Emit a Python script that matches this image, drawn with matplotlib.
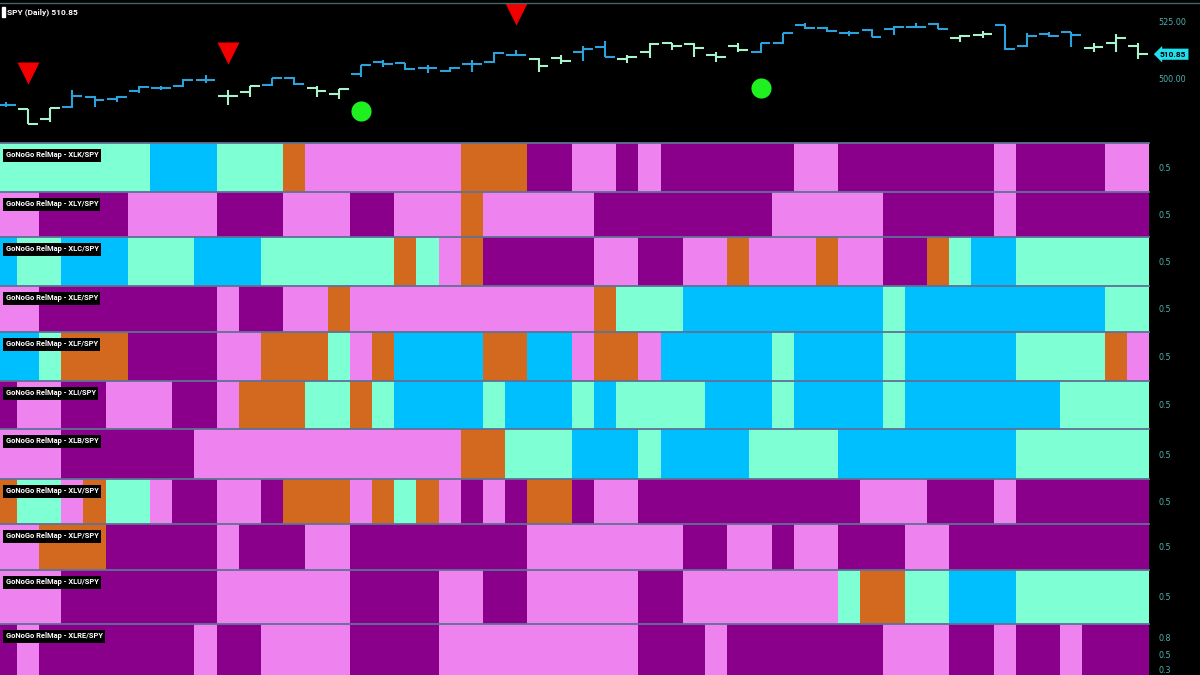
import numpy as np
import matplotlib.pyplot as plt
from matplotlib.lines import Line2D
from matplotlib.patches import Rectangle
import matplotlib.transforms as mtransforms

# SPY daily OHLC (52 sessions)
opens = [488.5, 486.8, 482.5, 487.7, 492.1, 491.2, 494.7, 496.0, 496.9, 499.6,
         492.5, 494.3, 497.4, 500.4, 496.0, 493.4, 502.2, 507.5, 507.0, 504.8,
         503.5, 506.6, 507.5, 510.5, 508.8, 509.2, 511.8, 514.0, 508.8, 511.8,
         515.8, 515.4, 510.5, 514.5, 511.8, 515.8, 523.7, 522.4, 520.2, 521.5,
         521.9, 522.8, 524.1, 518.0, 519.3, 523.7, 514.5, 519.7, 520.6, 513.6,
         515.8, 514.5]
highs = [489.9, 487.0, 487.3, 495.2, 492.5, 492.5, 496.9, 496.9, 500.0, 501.8,
         495.2, 496.9, 500.4, 500.9, 496.9, 495.6, 506.1, 508.3, 507.1, 506.1,
         505.3, 508.3, 511.8, 512.7, 509.2, 510.5, 514.5, 516.7, 510.5, 515.8,
         515.9, 515.8, 511.8, 515.8, 515.9, 520.2, 524.6, 522.8, 521.1, 521.9,
         523.2, 524.6, 524.6, 519.3, 521.1, 523.8, 520.2, 520.6, 520.7, 515.8,
         519.7, 515.8]
lows = [487.9, 480.3, 481.1, 487.3, 487.7, 489.9, 493.9, 495.2, 496.5, 498.2,
        488.6, 492.1, 496.9, 497.4, 492.1, 491.2, 500.9, 505.3, 503.9, 502.6,
        503.1, 503.1, 507.0, 510.1, 503.1, 506.6, 507.9, 509.6, 507.0, 509.2,
        512.7, 509.6, 507.5, 511.8, 511.4, 515.4, 521.9, 520.6, 518.9, 518.4,
        519.3, 522.4, 521.9, 516.2, 518.0, 512.7, 514.0, 518.4, 514.0, 511.8,
        511.8, 508.8]
closes = [488.7, 480.3, 487.3, 492.5, 490.8, 492.1, 496.5, 496.0, 499.6, 499.6,
          492.5, 496.9, 500.4, 497.8, 494.7, 495.6, 506.1, 506.6, 504.4, 504.8,
          504.8, 506.6, 511.4, 510.5, 505.7, 507.9, 513.2, 509.6, 509.6, 515.4,
          514.5, 513.6, 509.6, 512.7, 515.8, 520.2, 522.4, 521.1, 520.2, 518.4,
          522.8, 522.8, 521.9, 518.9, 519.7, 513.2, 518.9, 518.9, 519.3, 514.0,
          518.0, 510.85]
# B = strong go (blue), G = weak go (light green)
price_trend = "B GG BBBBBBB GG BB GG BBBBBBBB GG BB GGGGGG BBBBBBBBB GG BBBB GGG"

nogo_idx = [1, 10, 23]
nogo_y = [502.6, 511.2, 528.5]
go_idx = [16, 34]
go_y = [486.1, 495.9]

# RelMap rows: A=aquamarine, B=blue, O=amber, P=pink, M=purple
sectors = ["XLK", "XLY", "XLC", "XLE", "XLF", "XLI", "XLB", "XLV", "XLP", "XLU", "XLRE"]
xlk = "AAAAAAA BBB AAA O PPPPPPP OOO MM PP M P MMMMMM PP MMMMMMM P MMMM PP"
xly = "PP MMMM PPPP MMM PPP MM PPP O PPPPP MMMMMMMM PPPPP MMMMM P MMMMMM"
xlc = "B AA BBB AAA BBB AAAAAA O A P O MMMMM PP MM PP O PPP O PP MM O A BB AAAAAA"
xle = "PP MMMMMMMM P MM PP O PPPPPPPPPPP O AAA BBBBBBBBB A BBBBBBBBB AA"
xlf = "BB A OOO MMMM PP OOO A P O BBBB OO BB P OO P BBBBB A BBBB A BBBBB AAAA O P"
xli = "M PP MM PPP MM P OOO AA O A BBBB A BBB A B AAAA BBB A BBBB A BBBBBBB AAAA"
xlb = "PPP MMMMMM PPPPPPPPPPPP OO AAA BBB A BBBB AAAA BBBBBBBB AAAAAA"
xlv = "O AA P O AA P MM PP M OOO P O A O P M P M OO M PP MMMMMMMMMM PPP MMM P MMMMMM"
xlp = "PP OOO MMMMM P MMM PP MMMMMMMM PPPPPPP MM PP M PP MMM PP MMMMMMMMM"
xlu = "PPP MMMMMMM PPPPPP MMMM PP MM PPPPP MM PPPPPPP A OO AA BBB AAAAAA"
xlre = "M P MMMMMMM P MM PPPP MMMM PPPPPPPPP MMM P MMMMMMM PPP MM P MM P MMM"
rows = [xlk, xly, xlc, xle, xlf, xli, xlb, xlv, xlp, xlu, xlre]
last_row_ticks = ["0.8", "0.5", "0.3"]

palette = {"A": "#7fffd4", "B": "#00bfff", "O": "#d2691e", "P": "#ee82ee", "M": "#8b008b"}
price_colors = {"B": "#2ba2dc", "G": "#a8f2cc"}
tick_color = "#4fb0b0"
sep_color = "#5f7096"

W, H = 1200, 675
fig = plt.figure(figsize=(12, 6.75), dpi=100, facecolor="black")
plot_w = 1149 / W
xlim = (-0.257, 51.5)


def px_axes(top, bottom):
    return fig.add_axes([0, 1 - bottom / H, plot_w, (bottom - top) / H])


# ---- price panel ----
ax = px_axes(3, 141)
ax.set_facecolor("black")
trend = price_trend.replace(" ", "")
x = np.arange(len(closes))
cols = [price_colors[c] for c in trend]
ax.vlines(x, lows, highs, colors=cols, lw=1.5)
ax.hlines(opens, x - 0.45, x, colors=cols, lw=1.5)
ax.hlines(closes, x, x + 0.45, colors=cols, lw=1.5)
ax.plot(nogo_idx, nogo_y, "v", color="#f20000", ms=15.5, mec="none", clip_on=False)
ax.plot(go_idx, go_y, "o", color="#1ff01f", ms=14.5, mec="none")
ax.set_xlim(*xlim)
ax.set_ylim(472.8, 533.3)
ax.set_xticks([])
ax.yaxis.tick_right()
ax.set_yticks([500, 525])
ax.set_yticklabels(["500.00", "525.00"])
ax.tick_params(axis="y", length=0, pad=7, labelsize=5.8, labelcolor=tick_color)
for s in ax.spines.values():
    s.set_visible(False)

trans = mtransforms.blended_transform_factory(ax.transAxes, ax.transData)
ax.text(1 + 11 / 1149, closes[-1], f"{closes[-1]:.2f}", transform=trans,
        fontsize=6, fontweight="bold", color="black", va="center", ha="left",
        family="Roboto",
        bbox=dict(boxstyle="larrow,pad=0.25", fc="#22dfee", ec="none"))

fig.text(7 / W, 1 - 12 / H, f"SPY (Daily) {closes[-1]:.2f}", color="white",
         fontsize=6, fontweight="bold", family="Roboto", va="center")
fig.patches.append(Rectangle((2 / W, 1 - 17 / H), 3 / W, 10 / H,
                             transform=fig.transFigure, color="white"))
fig.add_artist(Line2D([0, 1], [1 - 3 / H] * 2, transform=fig.transFigure,
                      color="#3d6a6a", lw=1))

# ---- RelMap rows ----
seps = [143, 192, 237, 286, 332, 381, 429, 479, 524, 570, 624, 675]
for i, (name, codes) in enumerate(zip(sectors, rows)):
    codes = codes.replace(" ", "")
    rax = px_axes(seps[i], seps[i + 1])
    rax.set_facecolor("black")
    rax.bar(np.arange(len(codes)), 1.0, bottom=0.0, width=1.0,
            color=[palette[c] for c in codes], linewidth=0)
    rax.set_xlim(*xlim)
    rax.set_ylim(0, 1)
    rax.set_xticks([])
    rax.yaxis.tick_right()
    if i == len(sectors) - 1:
        rax.set_yticks([0.73, 0.41, 0.1])
        rax.set_yticklabels(last_row_ticks)
    else:
        rax.set_yticks([0.5])
    rax.tick_params(axis="y", length=0, pad=7, labelsize=5.8, labelcolor=tick_color)
    for s in rax.spines.values():
        s.set_visible(False)
    rax.spines["top"].set_visible(True)
    rax.spines["top"].set_color(sep_color)
    rax.spines["top"].set_linewidth(1.3)
    rax.annotate(f"GoNoGo RelMap - {name}/SPY", xy=(0, 1), xycoords="axes fraction",
                 xytext=(4, -6), textcoords="offset points", va="top", ha="left",
                 color="white", fontsize=5.4, fontweight="bold", family="Roboto",
                 bbox=dict(boxstyle="square,pad=0.3", fc="black", ec="none"))

fig.savefig("out.png", dpi=100, facecolor="black")
